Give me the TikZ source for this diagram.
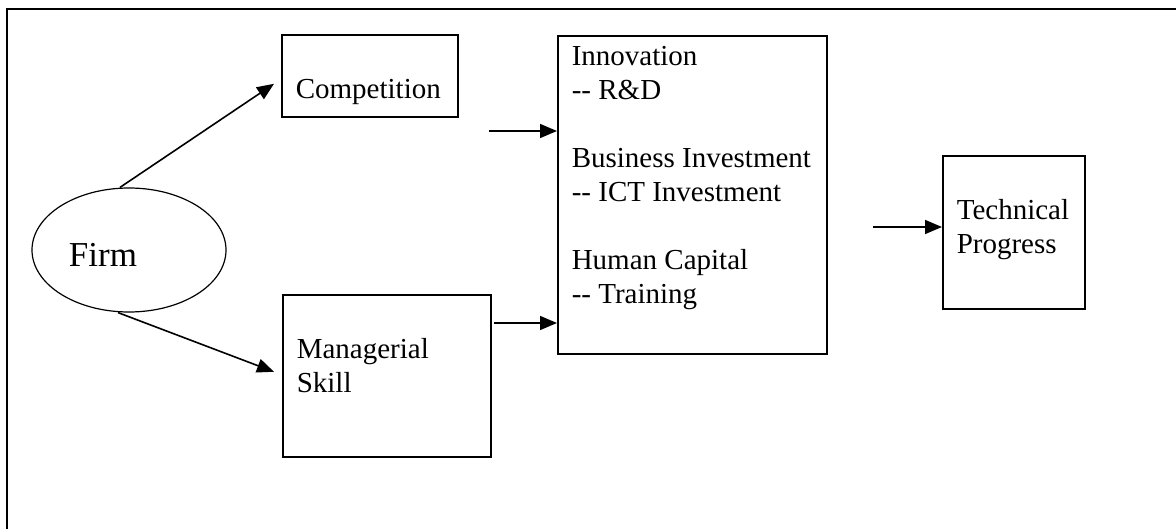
\documentclass[tikz,border=0pt]{standalone}
\usepackage{fontspec}
\setmainfont{Liberation Serif}[Ligatures=TeXOff]
\usetikzlibrary{arrows.meta,shapes.geometric}
\newcommand{\boxfont}{\fontsize{29pt}{34pt}\selectfont}
\newcommand{\firmfont}{\fontsize{35pt}{40pt}\selectfont}
\newcommand{\boxtext}[3]{%
  \begin{minipage}[t][#2][t]{#1}
    \begin{tabular}[t]{@{}l@{}}#3\end{tabular}
  \end{minipage}%
}

\begin{document}
\begin{tikzpicture}[
      x=1pt, y=-1pt,
      every node/.style={inner sep=0pt,font=\boxfont},
      box/.style={draw,line width=1.6pt,anchor=north west,inner xsep=14pt,inner ysep=6pt},
      firm/.style={draw,ellipse,line width=1.2pt,minimum width=194pt,minimum height=124pt},
      arr/.style={line width=1.6pt,-{Triangle[length=17pt,width=14pt]}}
    ]
      \useasboundingbox (0,0) rectangle (1176,529);
      \draw[line width=1.8pt] (7,545) |- (1190,9);

      % Draw the nodes, each box with its lines of text
      \node[firm,label={[xshift=-26pt,yshift=-5pt,font=\firmfont]center:Firm}] (firm) at (129,250) {};
      \node[box] (comp) at (281,34) {\boxtext{148pt}{70pt}{\\Competition}};
      \node[box] (skill) at (282,294) {\boxtext{180pt}{150pt}{\\Managerial\\Skill}};
      \node[box] (innov) at (557,35) {\boxtext{241pt}{306pt}{Innovation\\-- R\&D\\\\Business Investment\\-- ICT Investment\\\\Human Capital\\-- Training}};
      \node[box] (tech) at (942,155) {\boxtext{114pt}{141pt}{\\Technical\\Progress}};

      \coordinate (inA) at (489,131);
      \coordinate (inB) at (494,323);
      \coordinate (inC) at (873,227);

      \draw[arr] ([xshift=-9pt]firm.north) -- ([xshift=-7pt,yshift=-8pt]comp.west);
      \draw[arr] ([xshift=-11pt]firm.south) -- ([xshift=-8pt,yshift=4pt]skill.west);
      \draw[arr] (inA) -- (inA -| innov.west);
      \draw[arr] (inB) -- (inB -| innov.west);
      \draw[arr] (inC) -- (inC -| tech.west);
    \end{tikzpicture}
\end{document}
